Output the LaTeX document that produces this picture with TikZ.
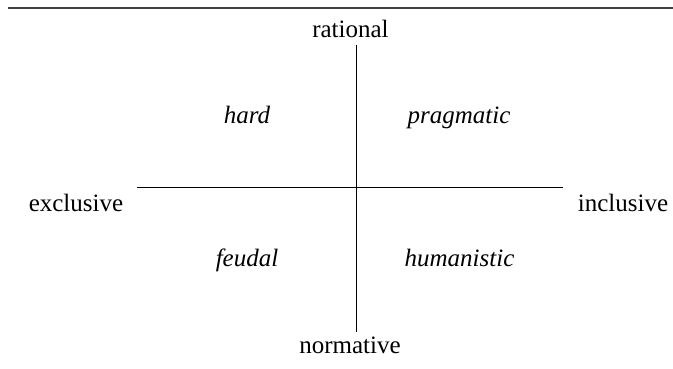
\documentclass[tikz,border=0pt]{standalone}
\usepackage{fontspec}
\setmainfont{Liberation Serif}
\usetikzlibrary{positioning}

\begin{document}
\begin{tikzpicture}[x=1pt, y=-1pt,
    axislabel/.style={font=\fontsize{25}{29}\selectfont, inner sep=0pt, anchor=base},
    quadlabel/.style={font=\fontsize{25}{29}\selectfont\itshape, inner sep=0pt, anchor=base}]
  \useasboundingbox (0,0) rectangle (673,369);

  % rule at the top
  \coordinate (ruleL) at (8,8);
  \coordinate (ruleR) at (673,8);
  \draw[line width=1.3pt, black!75] (ruleL) -- (ruleR);

  % axes
  \coordinate (top) at (356,45);
  \coordinate (bottom) at (356,332);
  \coordinate (left) at (137,187);
  \coordinate (right) at (563,187);
  \draw[line width=1pt] (top) -- (bottom);
  \draw[line width=1pt] (left) -- (right);

  % axis labels
  \node[axislabel] (rational) at (350.5,37.5) {rational};
  \node[axislabel] (normative) at (350,353) {normative};
  \node[axislabel] (exclusive) at (76,211.5) {exclusive};
  \node[axislabel] (inclusive) at (623,211.5) {inclusive};

  % quadrants
  \node[quadlabel] (hard) at (247,123.5) {hard};
  \node[quadlabel] (pragmatic) at (459,123.5) {pragmatic};
  \node[quadlabel] (feudal) at (247,266.5) {feudal};
  \node[quadlabel] (humanistic) at (459.5,266.5) {humanistic};
\end{tikzpicture}
\end{document}
